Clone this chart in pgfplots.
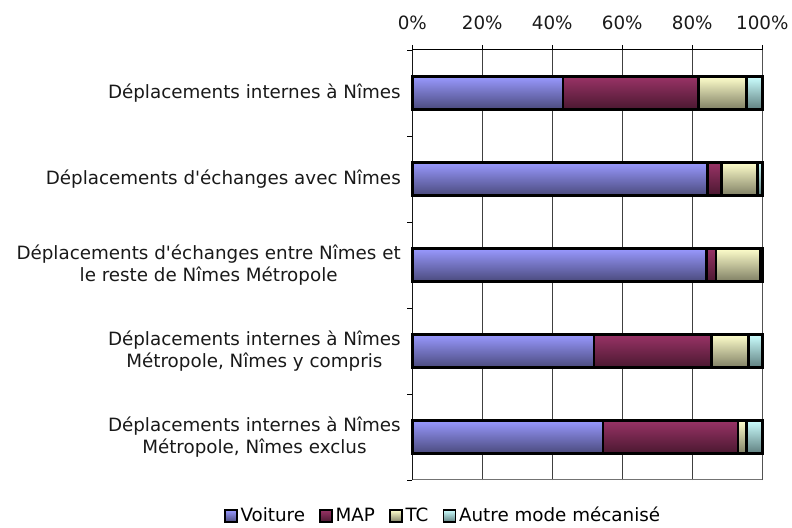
\documentclass[border=0pt]{standalone}
\usepackage{pgfplots}
\pgfplotsset{compat=1.18}
\usepackage{pgfplotstable}
\usepackage{fontspec}
\setmainfont{DejaVu Sans}[Ligatures=TeXOff]
\definecolor{voitT}{HTML}{9999FF}
\definecolor{voitB}{HTML}{4A4A7C}
\definecolor{mapT}{HTML}{993366}
\definecolor{mapB}{HTML}{4A1830}
\definecolor{tcT}{HTML}{FFFFCC}
\definecolor{tcB}{HTML}{7F7F64}
\definecolor{autT}{HTML}{CCFFFF}
\definecolor{autB}{HTML}{5F7F7F}
% one table per category (y position, Voiture, MAP, TC, Autre)
\pgfplotstableread{
y voiture map tc autre
4 43.1 38.7 13.7 4.5
}\catA
\pgfplotstableread{
y voiture map tc autre
3 84.4 4.0 10.3 1.3
}\catB
\pgfplotstableread{
y voiture map tc autre
2 84.1 2.7 12.5 0.7
}\catC
\pgfplotstableread{
y voiture map tc autre
1 51.9 33.5 10.6 4.0
}\catD
\pgfplotstableread{
y voiture map tc autre
0 54.5 38.6 2.4 4.5
}\catE
\newcommand{\fnt}{\fontsize{18.3bp}{22bp}\selectfont}
\pgfplotsset{
  frame/.style={at={(412.3bp,48bp)}, anchor=south west,
    scale only axis, width=350bp, height=430bp,
    xmin=0, xmax=100, ymin=-0.5, ymax=4.5},
  baraxis/.style={frame, xbar stacked, bar width=33bp, hide axis, clip=false},
  sVoit/.style={draw=black, line width=2.6bp, top color=voitT, middle color=voitT!80!voitB, bottom color=voitB},
  sMap/.style={draw=black, line width=2.6bp, top color=mapT, middle color=mapT!80!mapB, bottom color=mapB},
  sTc/.style={draw=black, line width=2.6bp, top color=tcT, middle color=tcT!80!tcB, bottom color=tcB},
  sAut/.style={draw=black, line width=2.6bp, top color=autT, middle color=autT!80!autB, bottom color=autB},
}
\newcommand{\onebar}[1]{%
\begin{axis}[baraxis]
\addplot[sVoit] table[x=voiture, y=y] {#1};
\addplot[sMap] table[x=map, y=y] {#1};
\addplot[sTc] table[x=tc, y=y] {#1};
\addplot[sAut] table[x=autre, y=y] {#1};
\end{axis}}
\begin{document}
\begin{tikzpicture}
\path[use as bounding box] (0,0) rectangle (792bp,528bp);
\begin{axis}[
  frame,
  xtick={0,20,40,60,80,100},
  xticklabels={0\%,20\%,40\%,60\%,80\%,100\%},
  xtick pos=right, xticklabel pos=right,
  xticklabel style={yshift=12bp},
  ytick={-0.5,0.5,1.5,2.5,3.5,4.5}, yticklabels={},
  ytick pos=left,
  extra y ticks={0,1,2,3,4},
  extra y tick labels={{Déplacements internes à Nîmes\\Métropole, Nîmes exclus},
    {Déplacements internes à Nîmes\\Métropole, Nîmes y compris},
    {Déplacements d'échanges entre Nîmes et\\le reste de Nîmes Métropole},
    {Déplacements d'échanges avec Nîmes},
    {Déplacements internes à Nîmes}},
  extra y tick style={grid=none, tick style={draw=none},
    yticklabel style={align=center, xshift=-3bp}},
  tick align=outside, major tick length=5bp,
  tick style={black, line width=0.8bp},
  xmajorgrids, major grid style={draw=black!75, line width=1bp},
  axis line style={draw=none},
  font=\fnt,
  ticklabel style={font=\fnt, text=black!90},
  legend style={draw=none, at={(0.085,-0.0837)}, anchor=center,
    legend columns=4, font=\fnt,
    /tikz/every odd column/.append style={column sep=3bp},
    /tikz/every even column/.append style={column sep=14bp},
    nodes={inner xsep=0pt, text height=13.5bp, text depth=3bp}},
  legend image code/.code={\draw[#1, line width=1.6bp] (0bp,-6bp) rectangle (12bp,6bp);},
]
\draw[black!55, line width=1.2bp] (rel axis cs:0,0) -- (rel axis cs:1,0) -- (rel axis cs:1,1);
\draw[black, line width=1bp] (rel axis cs:0,0) -- (rel axis cs:0,1) -- (rel axis cs:1,1);
\addlegendimage{sVoit}
\addlegendimage{sMap}
\addlegendimage{sTc}
\addlegendimage{sAut}
\legend{Voiture, MAP, TC, Autre mode mécanisé}
\end{axis}
\onebar{\catA}
\onebar{\catB}
\onebar{\catC}
\onebar{\catD}
\onebar{\catE}
\end{tikzpicture}
\end{document}
